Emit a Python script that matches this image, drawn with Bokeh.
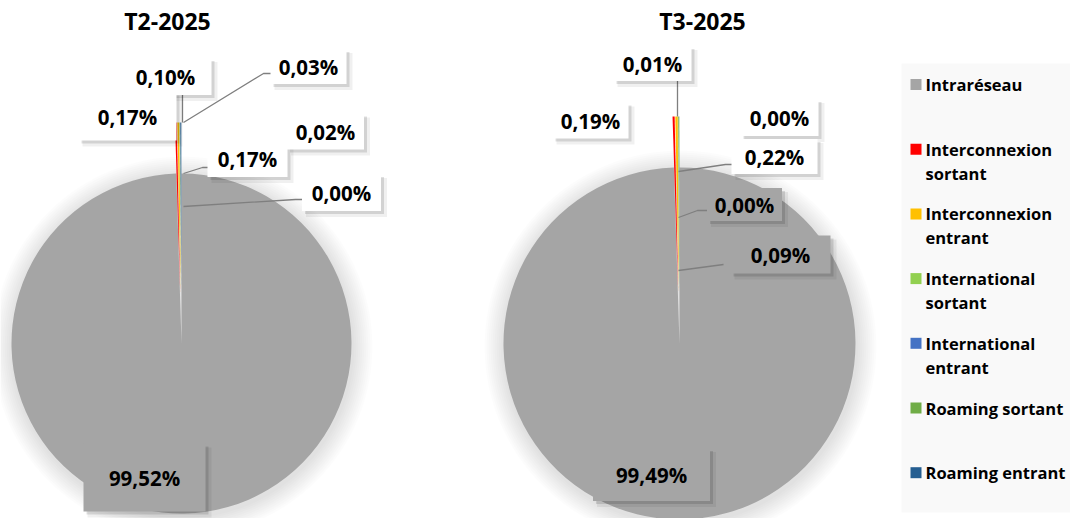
import numpy as np
from bokeh.plotting import figure
from bokeh.models import Range1d, ColumnDataSource
from bokeh.core.properties import value
from bokeh.embed import file_html
from bokeh.resources import INLINE

# ---------------- data ----------------
categories = ["Intraréseau", "Interconnexion sortant", "Interconnexion entrant",
              "International sortant", "International entrant",
              "Roaming sortant", "Roaming entrant"]
legend_labels = ["Intraréseau", "Interconnexion\nsortant", "Interconnexion\nentrant",
                 "International\nsortant", "International\nentrant",
                 "Roaming sortant", "Roaming entrant"]
colors = ["#A5A5A5", "#FF0000", "#FFC000", "#92D050", "#4472C4", "#70AD47", "#255E91"]
periods = ["T2-2025", "T3-2025"]
t2_values = [99.52, 0.17, 0.17, 0.02, 0.00, 0.03, 0.10]
t3_values = [99.49, 0.19, 0.22, 0.00, 0.00, 0.09, 0.01]

# ---------------- layout (page pixel coords) ----------------
W, H = 1070, 518
def X(px):
    return px
def Y(py):
    return H - py

FONT = value("Open Sans")
EXPLODE = 51

pies = [
    dict(values=t2_values, title=periods[0], cx=181, cy=343, r=170, title_pos=(167, 20),
         text_pos=[(144, 477), (127, 116), (247, 158), (325, 131), (341, 192), (308, 66), (165, 76)],
         box_size=[(122, 68), (98, 48), (80, 37), (77, 36), (79, 37), (76, 35), (92, 37)],
         leaders=[[(182, 91), (182, 122)],
                  [(272, 73), (263, 73), (183, 122)],
                  [(210, 167), (202, 167), (183, 173)],
                  [(303, 199), (295, 199), (183, 206)]]),
    dict(values=t3_values, title=periods[1], cx=679, cy=343, r=176, title_pos=(702, 20),
         text_pos=[(651, 474), (590, 120), (774, 156), (779, 117), (744, 204), (780, 254), (652, 63)],
         box_size=[(117, 53), (76, 36), (86, 35), (78, 37), (75, 33), (100, 38), (78, 35)],
         leaders=[[(677, 80), (677, 116)],
                  [(733, 164), (725, 164), (678, 171)],
                  [(707, 210), (697, 210), (678, 217)],
                  [(723, 264), (678, 270)]]),
]

p = figure(width=W, height=H, x_range=Range1d(0, W), y_range=Range1d(0, H),
           x_axis_type=None, y_axis_type=None, toolbar_location=None,
           output_backend="svg", min_border=0)
p.grid.visible = False
p.outline_line_color = None
p.background_fill_color = "white"
p.border_fill_color = "white"

# legend panel background
p.quad(left=X(901), right=X(1075), top=Y(63), bottom=Y(512),
       fill_color="#F9F9F9", line_color=None)

for pie in pies:
    vals = np.array(pie["values"], dtype=float)
    frac = vals / vals.sum()
    cum = np.concatenate([[0.0], np.cumsum(frac)])
    start = np.pi / 2 - 2 * np.pi * cum[:-1]
    end = np.pi / 2 - 2 * np.pi * cum[1:]
    mid = (start + end) / 2
    off = np.array([0.0] + [EXPLODE] * (len(vals) - 1))
    cxf, cyf = X(pie["cx"]), Y(pie["cy"])
    r = pie["r"]

    # soft shadow around pie
    for k in range(1, 11):
        p.circle(x=cxf + 1, y=cyf - 3, radius=r + 2 * k,
                 fill_color="black", fill_alpha=0.013, line_color=None)

    data = dict(x=cxf + off * np.cos(mid), y=cyf + off * np.sin(mid),
                start=start, end=end, color=np.array(colors),
                cat=np.array(categories), val=vals)
    # main slice first, then exploded slices on top (empty slices have no area)
    idx_big = np.array([0])
    idx_small = np.array([i for i in range(1, len(vals)) if vals[i] > 0])
    for idx in (idx_big, idx_small):
        s = ColumnDataSource({k: list(v[idx]) for k, v in data.items()})
        p.wedge(x="x", y="y", radius=r, start_angle="start", end_angle="end",
                direction="clock", fill_color="color", line_color=None, source=s)

    # leader lines
    p.multi_line(xs=[[X(a) for a, b in ln] for ln in pie["leaders"]],
                 ys=[[Y(b) for a, b in ln] for ln in pie["leaders"]],
                 line_color="#7F7F7F", line_width=1.3)

    # label boxes
    bx = np.array([X(t[0]) for t in pie["text_pos"]], dtype=float)
    by = np.array([Y(t[1]) for t in pie["text_pos"]], dtype=float)
    bw = np.array([b[0] for b in pie["box_size"]], dtype=float)
    bh = np.array([b[1] for b in pie["box_size"]], dtype=float)
    inside = (bx - cxf) ** 2 + (by - cyf) ** 2 < r ** 2
    fills = ["#A5A5A5" if i else "white" for i in inside]
    p.rect(x=bx + 5, y=by - 5, width=bw + 2, height=bh + 2,
           fill_color="black", fill_alpha=0.06, line_color=None)
    p.rect(x=bx + 3, y=by - 3, width=bw, height=bh,
           fill_color="black", fill_alpha=0.12, line_color=None)
    p.rect(x=bx, y=by, width=bw, height=bh, fill_color=fills, line_color=None)

    labels = [f"{v:.2f}".replace(".", ",") + "%" for v in vals]
    p.text(x=bx, y=by, text=labels, text_font=FONT, text_font_style="bold",
           text_font_size="20.5px", text_align="center", text_baseline="middle",
           text_color="black")

    # title
    p.text(x=[X(pie["title_pos"][0])], y=[Y(pie["title_pos"][1])], text=[pie["title"]],
           text_font=FONT, text_font_style="bold", text_font_size="23px",
           text_align="center", text_baseline="middle", text_color="black")

# ---------------- legend ----------------
leg_y0, leg_step, line_gap = 84, 64.7, 24
sq_x, txt_x = 915.5, 925
lx, ly, lt = [], [], []
for i, lab in enumerate(legend_labels):
    y0 = leg_y0 + i * leg_step
    for j, line in enumerate(lab.split("\n")):
        lx.append(X(txt_x)); ly.append(Y(y0 + j * line_gap)); lt.append(line)
p.rect(x=[X(sq_x)] * len(colors), y=[Y(leg_y0 + i * leg_step) for i in range(len(colors))],
       width=11, height=11, fill_color=colors, line_color=None)
p.text(x=lx, y=ly, text=lt, text_font=FONT, text_font_style="bold",
       text_font_size="16.5px", text_align="left", text_baseline="middle",
       text_color="black")

open("out.html", "w").write(file_html(p, INLINE))
